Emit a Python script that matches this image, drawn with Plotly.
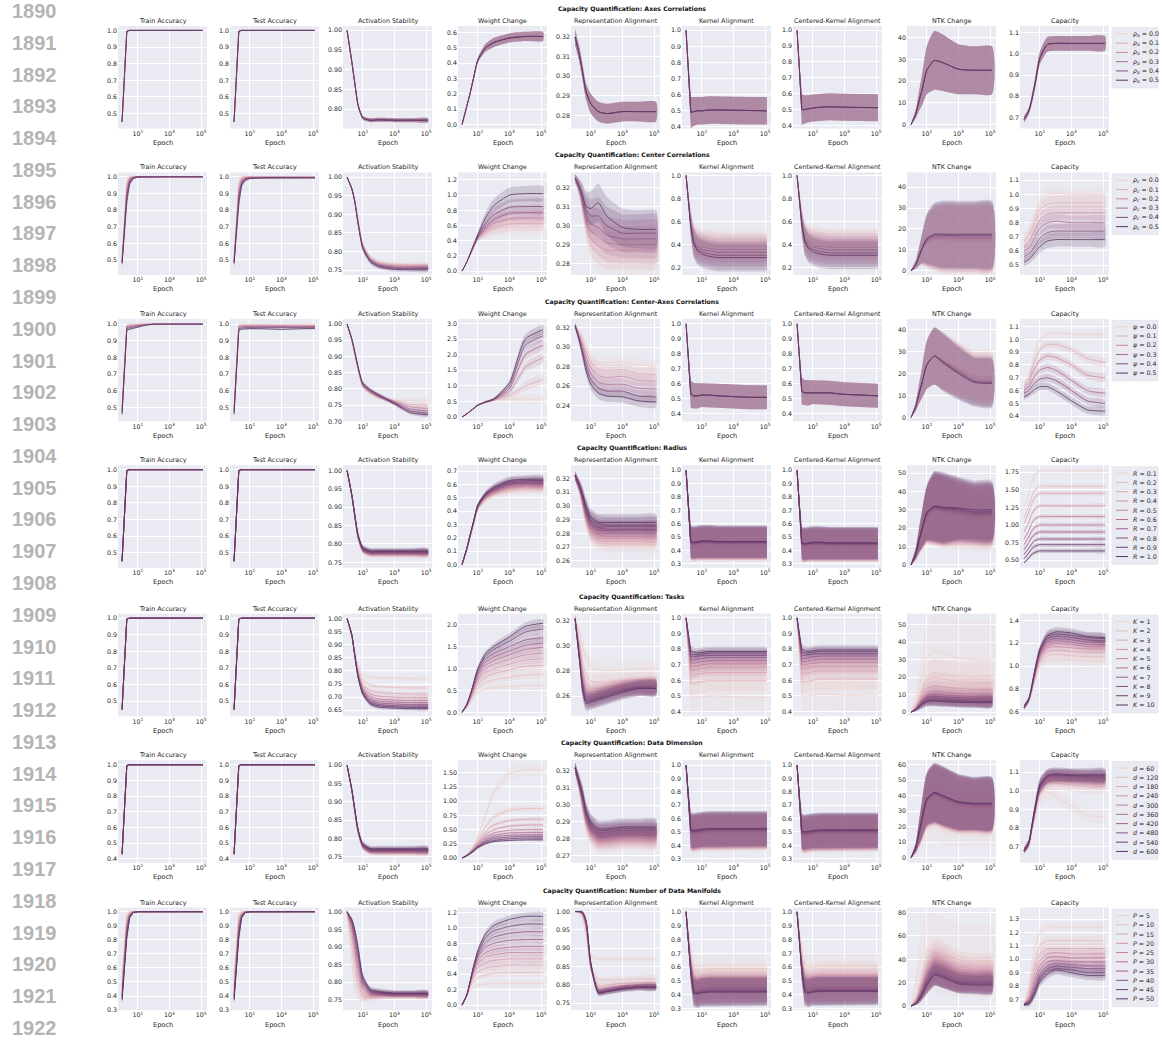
import plotly.graph_objects as go

W, H = 1162, 1042

# ---------------------------------------------------------------- data
epochs = [1, 2, 3, 5, 10, 30, 100, 1000, 10000, 131072]

line_numbers = ["1890", "1891", "1892", "1893", "1894", "1895", "1896", "1897", "1898", "1899",
                "1900", "1901", "1902", "1903", "1904", "1905", "1906", "1907", "1908", "1909",
                "1910", "1911", "1912", "1913", "1914", "1915", "1916", "1917", "1918", "1919",
                "1920", "1921", "1922"]

metric_titles = ["Train Accuracy", "Test Accuracy", "Activation Stability", "Weight Change",
                 "Representation Alignment", "Kernel Alignment", "Centered-Kernel Alignment",
                 "NTK Change", "Capacity"]

row_titles = ["Capacity Quantification: Axes Correlations",
              "Capacity Quantification: Center Correlations",
              "Capacity Quantification: Center-Axes Correlations",
              "Capacity Quantification: Radius",
              "Capacity Quantification: Tasks",
              "Capacity Quantification: Data Dimension",
              "Capacity Quantification: Number of Data Manifolds"]

r1_labels = ["<i>ρ</i><sub><i>a</i></sub> = 0.0", "<i>ρ</i><sub><i>a</i></sub> = 0.1", "<i>ρ</i><sub><i>a</i></sub> = 0.2",
             "<i>ρ</i><sub><i>a</i></sub> = 0.3", "<i>ρ</i><sub><i>a</i></sub> = 0.4", "<i>ρ</i><sub><i>a</i></sub> = 0.5"]
r2_labels = ["<i>ρ</i><sub><i>c</i></sub> = 0.0", "<i>ρ</i><sub><i>c</i></sub> = 0.1", "<i>ρ</i><sub><i>c</i></sub> = 0.2",
             "<i>ρ</i><sub><i>c</i></sub> = 0.3", "<i>ρ</i><sub><i>c</i></sub> = 0.4", "<i>ρ</i><sub><i>c</i></sub> = 0.5"]
r3_labels = ["<i>ψ</i> = 0.0", "<i>ψ</i> = 0.1", "<i>ψ</i> = 0.2", "<i>ψ</i> = 0.3", "<i>ψ</i> = 0.4", "<i>ψ</i> = 0.5"]
r4_labels = ["<i>R</i> = 0.1", "<i>R</i> = 0.2", "<i>R</i> = 0.3", "<i>R</i> = 0.4", "<i>R</i> = 0.5",
             "<i>R</i> = 0.6", "<i>R</i> = 0.7", "<i>R</i> = 0.8", "<i>R</i> = 0.9", "<i>R</i> = 1.0"]
r5_labels = ["<i>K</i> = 1", "<i>K</i> = 2", "<i>K</i> = 3", "<i>K</i> = 4", "<i>K</i> = 5",
             "<i>K</i> = 6", "<i>K</i> = 7", "<i>K</i> = 8", "<i>K</i> = 9", "<i>K</i> = 10"]
r6_labels = ["<i>d</i> = 60", "<i>d</i> = 120", "<i>d</i> = 180", "<i>d</i> = 240", "<i>d</i> = 300",
             "<i>d</i> = 360", "<i>d</i> = 420", "<i>d</i> = 480", "<i>d</i> = 540", "<i>d</i> = 600"]
r7_labels = ["<i>P</i> = 5", "<i>P</i> = 10", "<i>P</i> = 15", "<i>P</i> = 20", "<i>P</i> = 25",
             "<i>P</i> = 30", "<i>P</i> = 35", "<i>P</i> = 40", "<i>P</i> = 45", "<i>P</i> = 50"]

# ---------- row 1 : axes correlations (6 series, visually identical)
r1_train = [[0.45, 0.995, 1.0, 1.0, 1.0, 1.0, 1.0, 1.0, 1.0, 1.0]] * 6
r1_train_sd = [0.015, 0.003, 0, 0, 0, 0, 0, 0, 0, 0]
r1_test = [[0.45, 0.995, 1.0, 1.0, 1.0, 1.0, 1.0, 1.0, 1.0, 1.0]] * 6
r1_test_sd = [0.015, 0.003, 0, 0, 0, 0, 0, 0, 0, 0]
r1_act = [[1.0, 0.92, 0.87, 0.81, 0.778, 0.772, 0.773, 0.772, 0.772, 0.772]] * 6
r1_act_sd = [0, 0.004, 0.005, 0.005, 0.005, 0.005, 0.005, 0.005, 0.005, 0.005]
r1_weight = [[0.0, 0.12, 0.19, 0.29, 0.42, 0.50, 0.535, 0.565, 0.575, 0.575]] * 6
r1_weight_sd = [0, 0.002, 0.004, 0.008, 0.015, 0.025, 0.03, 0.03, 0.03, 0.03]
r1_repr = [[0.320, 0.310, 0.302, 0.292, 0.286, 0.282, 0.281, 0.282, 0.282, 0.282]] * 6
r1_repr_sd = [0.004, 0.004, 0.004, 0.004, 0.005, 0.005, 0.005, 0.005, 0.005, 0.005]
r1_kernel = [[1.0, 0.49, 0.495, 0.50, 0.50, 0.505, 0.505, 0.502, 0.50, 0.50]] * 6
r1_kernel_sd = [0, 0.095, 0.09, 0.085, 0.085, 0.085, 0.085, 0.085, 0.085, 0.085]
r1_ckernel = [[1.0, 0.50, 0.50, 0.505, 0.51, 0.515, 0.518, 0.515, 0.512, 0.512]] * 6
r1_ckernel_sd = [0, 0.095, 0.09, 0.085, 0.085, 0.085, 0.085, 0.085, 0.085, 0.085]
r1_ntk = [[0, 5, 10, 16, 25, 29.5, 28.5, 25.5, 25, 25]] * 6
r1_ntk_sd = [0, 2, 4, 7, 11, 13.5, 13, 11.5, 11, 11]
r1_cap = [[0.69, 0.73, 0.78, 0.86, 0.98, 1.045, 1.05, 1.05, 1.05, 1.05]] * 6
r1_cap_sd = [0.015, 0.015, 0.02, 0.025, 0.03, 0.035, 0.035, 0.035, 0.035, 0.035]
r1_yrange = [[0.41, 1.027], [0.41, 1.027], [0.751, 1.011], [-0.026, 0.644], [0.2734, 0.3256],
             [0.39, 1.027], [0.381, 1.027], [-1.8, 45.4], [0.647, 1.133]]
r1_dtick = [0.1, 0.1, 0.05, 0.1, 0.01, 0.1, 0.1, 10, 0.1]

# ---------- row 2 : center correlations
r2_train = [[0.50, 0.97, 0.995, 1.0, 1.0, 1.0, 1.0, 1.0, 1.0, 1.0],
            [0.50, 0.95, 0.99, 1.0, 1.0, 1.0, 1.0, 1.0, 1.0, 1.0],
            [0.49, 0.93, 0.985, 0.998, 1.0, 1.0, 1.0, 1.0, 1.0, 1.0],
            [0.49, 0.91, 0.98, 0.996, 1.0, 1.0, 1.0, 1.0, 1.0, 1.0],
            [0.48, 0.88, 0.97, 0.993, 1.0, 1.0, 1.0, 1.0, 1.0, 1.0],
            [0.48, 0.85, 0.96, 0.99, 0.999, 1.0, 1.0, 1.0, 1.0, 1.0]]
r2_train_sd = [0.03, 0.04, 0.02, 0.008, 0.003, 0, 0, 0, 0, 0]
r2_test = [[0.50, 0.97, 0.995, 1.0, 1.0, 1.0, 1.0, 1.0, 1.0, 1.0],
           [0.50, 0.95, 0.99, 0.998, 0.999, 0.999, 0.999, 0.999, 0.999, 0.999],
           [0.49, 0.92, 0.98, 0.995, 0.998, 0.998, 0.998, 0.998, 0.998, 0.998],
           [0.49, 0.90, 0.97, 0.99, 0.996, 0.997, 0.997, 0.997, 0.997, 0.997],
           [0.48, 0.87, 0.96, 0.985, 0.993, 0.995, 0.995, 0.995, 0.995, 0.995],
           [0.48, 0.84, 0.95, 0.98, 0.99, 0.993, 0.993, 0.993, 0.993, 0.993]]
r2_test_sd = [0.03, 0.04, 0.02, 0.01, 0.005, 0.003, 0.003, 0.003, 0.003, 0.003]
r2_act = [[1.0, 0.970, 0.940, 0.885, 0.820, 0.785, 0.772, 0.766, 0.765, 0.765],
          [1.0, 0.970, 0.940, 0.883, 0.818, 0.783, 0.770, 0.764, 0.763, 0.763],
          [1.0, 0.970, 0.939, 0.880, 0.815, 0.780, 0.767, 0.761, 0.760, 0.760],
          [1.0, 0.969, 0.938, 0.878, 0.812, 0.777, 0.764, 0.758, 0.757, 0.757],
          [1.0, 0.969, 0.937, 0.876, 0.810, 0.775, 0.762, 0.755, 0.754, 0.754],
          [1.0, 0.968, 0.936, 0.874, 0.807, 0.772, 0.759, 0.752, 0.751, 0.751]]
r2_act_sd = [0, 0.004, 0.005, 0.006, 0.006, 0.006, 0.006, 0.006, 0.006, 0.006]
r2_weight = [[0, 0.12, 0.20, 0.30, 0.43, 0.50, 0.55, 0.58, 0.58, 0.58],
             [0, 0.12, 0.20, 0.30, 0.43, 0.52, 0.58, 0.62, 0.63, 0.63],
             [0, 0.12, 0.20, 0.30, 0.44, 0.55, 0.63, 0.69, 0.70, 0.70],
             [0, 0.12, 0.20, 0.31, 0.45, 0.58, 0.68, 0.76, 0.77, 0.77],
             [0, 0.12, 0.21, 0.32, 0.46, 0.62, 0.74, 0.84, 0.85, 0.85],
             [0, 0.12, 0.21, 0.33, 0.48, 0.70, 0.86, 1.00, 1.02, 1.02]]
r2_weight_sd = [0, 0.005, 0.01, 0.02, 0.04, 0.07, 0.09, 0.10, 0.10, 0.10]
r2_repr = [[0.325, 0.318, 0.310, 0.300, 0.290, 0.285, 0.283, 0.283, 0.283, 0.283],
           [0.325, 0.318, 0.311, 0.302, 0.293, 0.289, 0.287, 0.287, 0.287, 0.287],
           [0.325, 0.319, 0.312, 0.304, 0.297, 0.294, 0.291, 0.290, 0.290, 0.290],
           [0.325, 0.319, 0.313, 0.306, 0.301, 0.299, 0.295, 0.293, 0.293, 0.293],
           [0.325, 0.320, 0.315, 0.308, 0.305, 0.305, 0.300, 0.296, 0.296, 0.296],
           [0.325, 0.320, 0.316, 0.310, 0.309, 0.312, 0.305, 0.299, 0.298, 0.298]]
r2_repr_sd = [0.002, 0.004, 0.006, 0.008, 0.009, 0.01, 0.01, 0.01, 0.01, 0.01]
r2_kernel = [[1.0, 0.60, 0.48, 0.44, 0.43, 0.42, 0.41, 0.41, 0.41, 0.41],
             [1.0, 0.59, 0.46, 0.42, 0.405, 0.395, 0.385, 0.385, 0.385, 0.385],
             [1.0, 0.58, 0.44, 0.40, 0.38, 0.37, 0.36, 0.36, 0.36, 0.36],
             [1.0, 0.57, 0.43, 0.38, 0.36, 0.345, 0.335, 0.335, 0.335, 0.335],
             [1.0, 0.56, 0.42, 0.36, 0.34, 0.32, 0.31, 0.31, 0.31, 0.31],
             [1.0, 0.55, 0.41, 0.35, 0.32, 0.30, 0.29, 0.29, 0.29, 0.29]]
r2_kernel_sd = [0, 0.10, 0.12, 0.12, 0.12, 0.12, 0.12, 0.12, 0.12, 0.12]
r2_ckernel = [[1.0, 0.62, 0.50, 0.46, 0.45, 0.44, 0.43, 0.43, 0.43, 0.43],
              [1.0, 0.61, 0.48, 0.44, 0.425, 0.415, 0.405, 0.405, 0.405, 0.405],
              [1.0, 0.60, 0.46, 0.42, 0.40, 0.39, 0.38, 0.38, 0.38, 0.38],
              [1.0, 0.59, 0.45, 0.40, 0.38, 0.365, 0.355, 0.355, 0.355, 0.355],
              [1.0, 0.58, 0.44, 0.38, 0.36, 0.34, 0.33, 0.33, 0.33, 0.33],
              [1.0, 0.57, 0.43, 0.37, 0.34, 0.32, 0.31, 0.31, 0.31, 0.31]]
r2_ckernel_sd = [0, 0.10, 0.12, 0.12, 0.12, 0.12, 0.12, 0.12, 0.12, 0.12]
r2_ntk = [[0, 3.0, 6.0, 9.5, 13.0, 14.5, 14.5, 14.0, 14.0, 14.0],
          [0, 3.0, 6.0, 10.0, 13.5, 15.0, 15.0, 14.8, 14.8, 14.8],
          [0, 3.0, 6.2, 10.0, 14.0, 15.7, 15.7, 15.5, 15.5, 15.5],
          [0, 3.0, 6.3, 10.5, 14.5, 16.3, 16.3, 16.2, 16.2, 16.2],
          [0, 3.1, 6.4, 10.7, 15.0, 17.0, 17.0, 16.8, 16.8, 16.8],
          [0, 3.2, 6.5, 11.0, 15.5, 17.5, 17.5, 17.5, 17.5, 17.5]]
r2_ntk_sd = [0, 2, 4, 7, 12, 15, 16, 16, 16, 16]
r2_cap = [[0.70, 0.74, 0.79, 0.86, 0.95, 1.00, 1.01, 1.00, 1.00, 1.00],
          [0.67, 0.71, 0.75, 0.81, 0.89, 0.93, 0.94, 0.94, 0.94, 0.94],
          [0.63, 0.66, 0.70, 0.75, 0.82, 0.86, 0.87, 0.87, 0.87, 0.87],
          [0.60, 0.62, 0.65, 0.70, 0.76, 0.80, 0.81, 0.80, 0.80, 0.80],
          [0.56, 0.58, 0.60, 0.64, 0.69, 0.73, 0.74, 0.74, 0.74, 0.74],
          [0.52, 0.54, 0.56, 0.59, 0.63, 0.67, 0.68, 0.68, 0.68, 0.68]]
r2_cap_sd = [0.03, 0.03, 0.035, 0.04, 0.045, 0.05, 0.05, 0.05, 0.05, 0.05]
r2_yrange = [[0.41, 1.027], [0.41, 1.027], [0.737, 1.013], [-0.05, 1.3], [0.274, 0.328],
             [0.14, 1.026], [0.14, 1.026], [-1.9, 47], [0.43, 1.156]]
r2_dtick = [0.1, 0.1, 0.05, 0.2, 0.01, 0.2, 0.2, 10, 0.1]

# ---------- row 3 : center-axes correlations
r3_train = [[0.50, 0.995, 1.0, 1.0, 1.0, 1.0, 1.0, 1.0, 1.0, 1.0],
            [0.50, 0.99, 0.995, 0.997, 0.999, 1.0, 1.0, 1.0, 1.0, 1.0],
            [0.49, 0.985, 0.99, 0.993, 0.996, 0.999, 1.0, 1.0, 1.0, 1.0],
            [0.48, 0.98, 0.985, 0.988, 0.992, 0.997, 1.0, 1.0, 1.0, 1.0],
            [0.47, 0.975, 0.978, 0.982, 0.987, 0.995, 1.0, 1.0, 1.0, 1.0],
            [0.46, 0.965, 0.97, 0.975, 0.982, 0.993, 1.0, 1.0, 1.0, 1.0]]
r3_train_sd = [0.02, 0.005, 0.004, 0.003, 0.003, 0.002, 0, 0, 0, 0]
r3_test = [[0.50, 0.995, 0.998, 0.998, 0.998, 0.998, 0.998, 0.998, 0.997, 0.997],
           [0.50, 0.99, 0.993, 0.993, 0.994, 0.994, 0.994, 0.993, 0.992, 0.992],
           [0.49, 0.985, 0.99, 0.99, 0.99, 0.99, 0.99, 0.988, 0.988, 0.989],
           [0.48, 0.98, 0.985, 0.986, 0.987, 0.987, 0.987, 0.985, 0.985, 0.986],
           [0.47, 0.972, 0.978, 0.98, 0.98, 0.98, 0.98, 0.978, 0.979, 0.98],
           [0.46, 0.962, 0.97, 0.972, 0.973, 0.973, 0.972, 0.969, 0.972, 0.974]]
r3_test_sd = [0.02, 0.005, 0.004, 0.004, 0.004, 0.004, 0.004, 0.004, 0.004, 0.004]
r3_act = [[1.0, 0.950, 0.910, 0.860, 0.805, 0.785, 0.772, 0.765, 0.765, 0.765],
          [1.0, 0.950, 0.910, 0.860, 0.807, 0.788, 0.775, 0.762, 0.752, 0.750],
          [1.0, 0.950, 0.912, 0.862, 0.810, 0.790, 0.777, 0.760, 0.745, 0.740],
          [1.0, 0.952, 0.914, 0.864, 0.812, 0.792, 0.778, 0.758, 0.738, 0.732],
          [1.0, 0.953, 0.916, 0.866, 0.815, 0.795, 0.780, 0.756, 0.732, 0.725],
          [1.0, 0.955, 0.918, 0.868, 0.818, 0.797, 0.782, 0.754, 0.727, 0.720]]
r3_act_sd = [0, 0.004, 0.005, 0.006, 0.006, 0.006, 0.006, 0.006, 0.006, 0.006]
r3_weight = [[0, 0.10, 0.17, 0.26, 0.38, 0.48, 0.53, 0.57, 0.58, 0.58],
             [0, 0.10, 0.17, 0.26, 0.38, 0.48, 0.54, 0.68, 1.00, 1.20],
             [0, 0.10, 0.17, 0.26, 0.38, 0.48, 0.55, 0.80, 1.60, 1.90],
             [0, 0.10, 0.17, 0.26, 0.38, 0.48, 0.56, 0.90, 2.00, 2.30],
             [0, 0.10, 0.17, 0.26, 0.38, 0.48, 0.57, 1.00, 2.30, 2.60],
             [0, 0.10, 0.17, 0.26, 0.38, 0.48, 0.58, 1.10, 2.50, 2.80]]
r3_weight_sd = [0, 0.005, 0.01, 0.015, 0.02, 0.03, 0.04, 0.08, 0.15, 0.15]
r3_repr = [[0.322, 0.315, 0.310, 0.300, 0.290, 0.285, 0.284, 0.285, 0.282, 0.280],
           [0.322, 0.312, 0.305, 0.295, 0.285, 0.278, 0.276, 0.277, 0.273, 0.272],
           [0.322, 0.310, 0.302, 0.290, 0.279, 0.271, 0.269, 0.270, 0.266, 0.265],
           [0.322, 0.308, 0.298, 0.285, 0.273, 0.264, 0.262, 0.262, 0.258, 0.257],
           [0.322, 0.306, 0.295, 0.280, 0.267, 0.258, 0.255, 0.255, 0.250, 0.249],
           [0.322, 0.304, 0.292, 0.276, 0.262, 0.253, 0.250, 0.249, 0.245, 0.244]]
r3_repr_sd = [0.003, 0.004, 0.005, 0.006, 0.006, 0.006, 0.006, 0.006, 0.006, 0.006]
r3_kernel = [[1.0, 0.53, 0.52, 0.52, 0.525, 0.525, 0.52, 0.515, 0.51, 0.51]] * 6
r3_kernel_sd = [0, 0.09, 0.085, 0.085, 0.08, 0.08, 0.08, 0.08, 0.08, 0.08]
r3_ckernel = [[1.0, 0.55, 0.54, 0.54, 0.545, 0.545, 0.54, 0.53, 0.525, 0.52]] * 6
r3_ckernel_sd = [0, 0.09, 0.085, 0.085, 0.08, 0.08, 0.08, 0.08, 0.08, 0.08]
r3_ntk = [[0, 5, 10, 16, 24, 28, 26.5, 23.0, 20.0, 20.0],
          [0, 5, 10, 16, 24, 28, 26.0, 22.0, 19.0, 18.5],
          [0, 5, 10, 16, 24, 28, 26.0, 21.5, 18.0, 17.5],
          [0, 5, 10, 16, 24, 28, 25.5, 21.0, 17.0, 16.5],
          [0, 5, 10, 16, 24, 28, 25.5, 20.5, 16.5, 16.0],
          [0, 5, 10, 16, 24, 28, 25.0, 20.0, 16.0, 15.5]]
r3_ntk_sd = [0, 2, 4, 7, 11, 13, 13, 12, 11, 11]
r3_cap = [[0.66, 0.72, 0.80, 0.90, 0.99, 1.04, 1.05, 1.04, 1.04, 1.04],
          [0.64, 0.69, 0.76, 0.84, 0.92, 0.96, 0.96, 0.92, 0.85, 0.82],
          [0.62, 0.66, 0.72, 0.78, 0.84, 0.87, 0.86, 0.80, 0.72, 0.70],
          [0.60, 0.63, 0.67, 0.72, 0.76, 0.78, 0.76, 0.68, 0.60, 0.58],
          [0.58, 0.60, 0.63, 0.66, 0.69, 0.70, 0.68, 0.60, 0.52, 0.50],
          [0.55, 0.57, 0.59, 0.61, 0.63, 0.63, 0.60, 0.52, 0.45, 0.44]]
r3_cap_sd = [0.02, 0.02, 0.025, 0.03, 0.03, 0.03, 0.03, 0.03, 0.03, 0.03]
r3_yrange = [[0.418, 1.032], [0.418, 1.032], [0.70, 1.016], [-0.14, 3.15], [0.224, 0.329],
             [0.35, 1.033], [0.35, 1.033], [-1.8, 45], [0.36, 1.16]]
r3_dtick = [0.1, 0.1, 0.05, 0.5, 0.02, 0.1, 0.1, 10, 0.1]

# ---------- row 4 : radius
r4_train = [[0.45, 0.995, 1.0, 1.0, 1.0, 1.0, 1.0, 1.0, 1.0, 1.0]] * 10
r4_train_sd = [0.015, 0.003, 0, 0, 0, 0, 0, 0, 0, 0]
r4_test = [[0.45, 0.995, 1.0, 1.0, 1.0, 1.0, 1.0, 1.0, 1.0, 1.0]] * 10
r4_test_sd = [0.015, 0.003, 0, 0, 0, 0, 0, 0, 0, 0]
r4_act = [[1.0, 0.930, 0.875, 0.815, 0.780, 0.770, 0.769, 0.768, 0.768, 0.768],
          [1.0, 0.930, 0.876, 0.816, 0.781, 0.771, 0.771, 0.770, 0.770, 0.770],
          [1.0, 0.930, 0.877, 0.817, 0.782, 0.773, 0.773, 0.772, 0.772, 0.772],
          [1.0, 0.931, 0.878, 0.818, 0.783, 0.774, 0.774, 0.774, 0.774, 0.774],
          [1.0, 0.931, 0.879, 0.819, 0.784, 0.775, 0.775, 0.775, 0.775, 0.775],
          [1.0, 0.932, 0.880, 0.820, 0.785, 0.776, 0.776, 0.776, 0.776, 0.776],
          [1.0, 0.932, 0.881, 0.821, 0.786, 0.777, 0.777, 0.777, 0.777, 0.777],
          [1.0, 0.933, 0.882, 0.822, 0.787, 0.778, 0.778, 0.778, 0.778, 0.778],
          [1.0, 0.933, 0.883, 0.823, 0.788, 0.779, 0.779, 0.779, 0.779, 0.779],
          [1.0, 0.934, 0.884, 0.824, 0.789, 0.781, 0.781, 0.781, 0.781, 0.781]]
r4_act_sd = [0, 0.005, 0.007, 0.008, 0.008, 0.008, 0.008, 0.008, 0.008, 0.008]
r4_weight = [[0, 0.11, 0.19, 0.29, 0.41, 0.48, 0.52, 0.55, 0.56, 0.56],
             [0, 0.11, 0.19, 0.29, 0.42, 0.49, 0.53, 0.56, 0.57, 0.57],
             [0, 0.11, 0.19, 0.29, 0.42, 0.50, 0.54, 0.57, 0.58, 0.58],
             [0, 0.11, 0.19, 0.30, 0.43, 0.50, 0.54, 0.58, 0.59, 0.59],
             [0, 0.12, 0.20, 0.30, 0.43, 0.51, 0.55, 0.59, 0.60, 0.60],
             [0, 0.12, 0.20, 0.30, 0.43, 0.51, 0.55, 0.60, 0.61, 0.61],
             [0, 0.12, 0.20, 0.30, 0.44, 0.52, 0.56, 0.60, 0.61, 0.61],
             [0, 0.12, 0.20, 0.31, 0.44, 0.52, 0.57, 0.61, 0.62, 0.62],
             [0, 0.12, 0.20, 0.31, 0.44, 0.53, 0.57, 0.62, 0.63, 0.63],
             [0, 0.12, 0.21, 0.31, 0.45, 0.53, 0.58, 0.63, 0.64, 0.64]]
r4_weight_sd = [0, 0.003, 0.005, 0.01, 0.015, 0.02, 0.025, 0.03, 0.03, 0.03]
r4_repr = [[0.322, 0.310, 0.300, 0.288, 0.278, 0.273, 0.272, 0.272, 0.272, 0.272],
           [0.322, 0.311, 0.301, 0.290, 0.280, 0.275, 0.274, 0.274, 0.274, 0.274],
           [0.322, 0.311, 0.302, 0.291, 0.281, 0.277, 0.276, 0.276, 0.276, 0.276],
           [0.322, 0.312, 0.303, 0.292, 0.283, 0.279, 0.278, 0.278, 0.278, 0.278],
           [0.322, 0.312, 0.304, 0.293, 0.284, 0.280, 0.280, 0.280, 0.280, 0.280],
           [0.322, 0.313, 0.305, 0.294, 0.286, 0.282, 0.282, 0.282, 0.282, 0.282],
           [0.322, 0.313, 0.306, 0.296, 0.287, 0.284, 0.283, 0.283, 0.283, 0.283],
           [0.322, 0.314, 0.307, 0.297, 0.289, 0.285, 0.285, 0.285, 0.285, 0.285],
           [0.322, 0.314, 0.308, 0.298, 0.290, 0.287, 0.286, 0.286, 0.286, 0.286],
           [0.322, 0.315, 0.309, 0.300, 0.292, 0.288, 0.288, 0.288, 0.288, 0.288]]
r4_repr_sd = [0.003, 0.004, 0.005, 0.006, 0.006, 0.006, 0.006, 0.006, 0.006, 0.006]
r4_kernel = [[1.0, 0.440, 0.435, 0.440, 0.445, 0.445, 0.440, 0.440, 0.440, 0.440],
             [1.0, 0.443, 0.438, 0.443, 0.448, 0.448, 0.443, 0.443, 0.443, 0.443],
             [1.0, 0.446, 0.441, 0.446, 0.451, 0.451, 0.446, 0.446, 0.446, 0.446],
             [1.0, 0.449, 0.444, 0.449, 0.454, 0.454, 0.449, 0.449, 0.449, 0.449],
             [1.0, 0.452, 0.447, 0.452, 0.457, 0.457, 0.452, 0.452, 0.452, 0.452],
             [1.0, 0.455, 0.450, 0.455, 0.460, 0.460, 0.455, 0.455, 0.455, 0.455],
             [1.0, 0.458, 0.453, 0.458, 0.463, 0.463, 0.458, 0.458, 0.458, 0.458],
             [1.0, 0.461, 0.456, 0.461, 0.466, 0.466, 0.461, 0.461, 0.461, 0.461],
             [1.0, 0.464, 0.459, 0.464, 0.469, 0.469, 0.464, 0.464, 0.464, 0.464],
             [1.0, 0.467, 0.462, 0.467, 0.472, 0.472, 0.467, 0.467, 0.467, 0.467]]
r4_kernel_sd = [0, 0.12, 0.12, 0.12, 0.12, 0.12, 0.12, 0.12, 0.12, 0.12]
r4_ckernel = [[1.0, 0.430, 0.425, 0.430, 0.435, 0.435, 0.430, 0.430, 0.430, 0.430],
              [1.0, 0.433, 0.428, 0.433, 0.438, 0.438, 0.433, 0.433, 0.433, 0.433],
              [1.0, 0.436, 0.431, 0.436, 0.441, 0.441, 0.436, 0.436, 0.436, 0.436],
              [1.0, 0.439, 0.434, 0.439, 0.444, 0.444, 0.439, 0.439, 0.439, 0.439],
              [1.0, 0.442, 0.437, 0.442, 0.447, 0.447, 0.442, 0.442, 0.442, 0.442],
              [1.0, 0.445, 0.440, 0.445, 0.450, 0.450, 0.445, 0.445, 0.445, 0.445],
              [1.0, 0.448, 0.443, 0.448, 0.453, 0.453, 0.448, 0.448, 0.448, 0.448],
              [1.0, 0.451, 0.446, 0.451, 0.456, 0.456, 0.451, 0.451, 0.451, 0.451],
              [1.0, 0.454, 0.449, 0.454, 0.459, 0.459, 0.454, 0.454, 0.454, 0.454],
              [1.0, 0.457, 0.452, 0.457, 0.462, 0.462, 0.457, 0.457, 0.457, 0.457]]
r4_ckernel_sd = [0, 0.12, 0.12, 0.12, 0.12, 0.12, 0.12, 0.12, 0.12, 0.12]
r4_ntk = [[0, 5.5, 11.0, 18.0, 26.0, 29.0, 28.0, 25.5, 24.0, 24.0],
          [0, 5.6, 11.2, 18.2, 26.3, 29.5, 28.5, 26.5, 25.0, 25.0],
          [0, 5.7, 11.4, 18.4, 26.6, 30.0, 29.0, 27.5, 26.0, 26.0],
          [0, 5.8, 11.6, 18.6, 26.9, 30.0, 29.3, 28.0, 26.5, 26.5],
          [0, 5.9, 11.8, 18.8, 27.2, 30.5, 29.6, 28.5, 27.0, 27.0],
          [0, 6.0, 12.0, 19.0, 27.5, 31.0, 30.0, 29.0, 27.5, 27.5],
          [0, 6.1, 12.2, 19.2, 27.8, 31.0, 30.3, 29.5, 28.0, 28.0],
          [0, 6.2, 12.4, 19.4, 28.1, 31.5, 30.6, 30.0, 28.5, 28.5],
          [0, 6.3, 12.6, 19.6, 28.4, 32.0, 31.0, 30.5, 29.0, 29.0],
          [0, 6.4, 12.8, 19.8, 28.7, 32.0, 31.5, 31.0, 30.0, 30.0]]
r4_ntk_sd = [0, 3, 6, 10, 15, 19, 19, 17, 16, 16]
r4_cap = [[1.25, 1.45, 1.60, 1.72, 1.77, 1.77, 1.77, 1.77, 1.77, 1.77],
          [1.10, 1.27, 1.40, 1.50, 1.55, 1.55, 1.55, 1.55, 1.55, 1.55],
          [1.02, 1.18, 1.30, 1.40, 1.45, 1.45, 1.45, 1.45, 1.45, 1.45],
          [0.90, 1.04, 1.15, 1.23, 1.27, 1.27, 1.27, 1.27, 1.27, 1.27],
          [0.80, 0.92, 1.02, 1.09, 1.12, 1.12, 1.12, 1.12, 1.12, 1.12],
          [0.72, 0.83, 0.91, 0.97, 1.00, 1.00, 1.00, 1.00, 1.00, 1.00],
          [0.65, 0.75, 0.82, 0.87, 0.90, 0.90, 0.90, 0.90, 0.90, 0.90],
          [0.58, 0.67, 0.73, 0.78, 0.80, 0.80, 0.80, 0.80, 0.80, 0.80],
          [0.52, 0.60, 0.66, 0.70, 0.72, 0.72, 0.72, 0.72, 0.72, 0.72],
          [0.46, 0.53, 0.58, 0.61, 0.63, 0.63, 0.63, 0.63, 0.63, 0.63]]
r4_cap_sd = [0.02, 0.02, 0.025, 0.03, 0.03, 0.03, 0.03, 0.03, 0.03, 0.03]
r4_yrange = [[0.41, 1.027], [0.41, 1.027], [0.735, 1.014], [-0.025, 0.745], [0.255, 0.3295],
             [0.27, 1.037], [0.27, 1.037], [-1.6, 54.3], [0.39, 1.85]]
r4_dtick = [0.1, 0.1, 0.05, 0.1, 0.01, 0.1, 0.1, 10, 0.25]

# ---------- row 5 : tasks
r5_train = [[0.45, 0.995, 1.0, 1.0, 1.0, 1.0, 1.0, 1.0, 1.0, 1.0]] * 10
r5_train_sd = [0.015, 0.003, 0, 0, 0, 0, 0, 0, 0, 0]
r5_test = [[0.45, 0.995, 1.0, 1.0, 1.0, 1.0, 1.0, 1.0, 1.0, 1.0]] * 10
r5_test_sd = [0.015, 0.003, 0, 0, 0, 0, 0, 0, 0, 0]
r5_act = [[1.0, 0.930, 0.880, 0.820, 0.785, 0.775, 0.773, 0.772, 0.771, 0.771],
          [1.0, 0.930, 0.875, 0.810, 0.765, 0.745, 0.740, 0.737, 0.735, 0.735],
          [1.0, 0.932, 0.872, 0.800, 0.750, 0.725, 0.718, 0.714, 0.712, 0.712],
          [1.0, 0.934, 0.870, 0.795, 0.740, 0.712, 0.704, 0.700, 0.698, 0.698],
          [1.0, 0.935, 0.868, 0.790, 0.733, 0.702, 0.693, 0.689, 0.687, 0.687],
          [1.0, 0.936, 0.866, 0.786, 0.727, 0.694, 0.685, 0.681, 0.679, 0.679],
          [1.0, 0.937, 0.865, 0.783, 0.722, 0.688, 0.678, 0.674, 0.672, 0.672],
          [1.0, 0.938, 0.864, 0.780, 0.717, 0.682, 0.672, 0.668, 0.666, 0.666],
          [1.0, 0.939, 0.863, 0.777, 0.713, 0.677, 0.667, 0.663, 0.661, 0.661],
          [1.0, 0.940, 0.862, 0.775, 0.710, 0.673, 0.662, 0.658, 0.656, 0.656]]
r5_act_sd = [0, 0.005, 0.007, 0.008, 0.008, 0.008, 0.008, 0.008, 0.008, 0.008]
r5_weight = [[0, 0.10, 0.18, 0.30, 0.45, 0.53, 0.56, 0.59, 0.61, 0.61],
             [0, 0.12, 0.22, 0.37, 0.55, 0.68, 0.74, 0.80, 0.85, 0.86],
             [0, 0.13, 0.25, 0.42, 0.64, 0.80, 0.88, 0.97, 1.05, 1.07],
             [0, 0.14, 0.27, 0.46, 0.71, 0.90, 0.99, 1.10, 1.19, 1.22],
             [0, 0.15, 0.29, 0.50, 0.77, 0.99, 1.09, 1.21, 1.31, 1.35],
             [0, 0.16, 0.31, 0.53, 0.83, 1.07, 1.18, 1.31, 1.43, 1.48],
             [0, 0.17, 0.33, 0.56, 0.88, 1.14, 1.26, 1.40, 1.53, 1.58],
             [0, 0.18, 0.34, 0.59, 0.93, 1.21, 1.34, 1.50, 1.65, 1.70],
             [0, 0.18, 0.35, 0.61, 0.97, 1.28, 1.43, 1.62, 1.83, 1.90],
             [0, 0.19, 0.36, 0.63, 1.01, 1.34, 1.50, 1.72, 1.96, 2.03]]
r5_weight_sd = [0, 0.005, 0.01, 0.02, 0.04, 0.06, 0.07, 0.08, 0.09, 0.09]
r5_repr = [[0.322, 0.310, 0.300, 0.290, 0.284, 0.281, 0.280, 0.281, 0.282, 0.282],
           [0.322, 0.302, 0.288, 0.277, 0.272, 0.271, 0.271, 0.272, 0.273, 0.273],
           [0.322, 0.298, 0.282, 0.270, 0.266, 0.266, 0.267, 0.269, 0.270, 0.270],
           [0.322, 0.295, 0.278, 0.266, 0.263, 0.264, 0.265, 0.268, 0.269, 0.269],
           [0.322, 0.293, 0.275, 0.263, 0.261, 0.262, 0.264, 0.267, 0.268, 0.268],
           [0.322, 0.291, 0.272, 0.261, 0.259, 0.261, 0.263, 0.266, 0.268, 0.268],
           [0.322, 0.289, 0.270, 0.259, 0.258, 0.260, 0.262, 0.265, 0.267, 0.267],
           [0.322, 0.288, 0.268, 0.257, 0.257, 0.259, 0.261, 0.265, 0.267, 0.267],
           [0.322, 0.287, 0.266, 0.256, 0.256, 0.258, 0.260, 0.264, 0.266, 0.266],
           [0.322, 0.286, 0.264, 0.254, 0.255, 0.257, 0.259, 0.263, 0.266, 0.266]]
r5_repr_sd = [0.003, 0.005, 0.006, 0.006, 0.006, 0.006, 0.006, 0.006, 0.006, 0.006]
r5_kernel = [[1.0, 0.49, 0.49, 0.49, 0.495, 0.50, 0.50, 0.495, 0.49, 0.49],
             [1.0, 0.58, 0.58, 0.585, 0.59, 0.60, 0.60, 0.60, 0.60, 0.60],
             [1.0, 0.63, 0.635, 0.64, 0.645, 0.65, 0.65, 0.65, 0.65, 0.65],
             [1.0, 0.66, 0.665, 0.67, 0.675, 0.68, 0.68, 0.68, 0.68, 0.68],
             [1.0, 0.69, 0.69, 0.695, 0.70, 0.705, 0.705, 0.705, 0.705, 0.705],
             [1.0, 0.71, 0.71, 0.715, 0.72, 0.725, 0.725, 0.725, 0.725, 0.725],
             [1.0, 0.73, 0.73, 0.735, 0.74, 0.745, 0.745, 0.745, 0.745, 0.745],
             [1.0, 0.75, 0.75, 0.755, 0.76, 0.76, 0.76, 0.76, 0.76, 0.76],
             [1.0, 0.77, 0.765, 0.765, 0.77, 0.775, 0.775, 0.775, 0.775, 0.775],
             [1.0, 0.79, 0.78, 0.775, 0.78, 0.785, 0.785, 0.785, 0.785, 0.785]]
r5_kernel_sd = [[0, 0.095, 0.095, 0.095, 0.095, 0.095, 0.095, 0.095, 0.095, 0.095],
                [0, 0.07, 0.07, 0.07, 0.07, 0.07, 0.07, 0.07, 0.07, 0.07],
                [0, 0.06, 0.06, 0.06, 0.06, 0.06, 0.06, 0.06, 0.06, 0.06],
                [0, 0.05, 0.05, 0.05, 0.05, 0.05, 0.05, 0.05, 0.05, 0.05],
                [0, 0.045, 0.045, 0.045, 0.045, 0.045, 0.045, 0.045, 0.045, 0.045],
                [0, 0.04, 0.04, 0.04, 0.04, 0.04, 0.04, 0.04, 0.04, 0.04],
                [0, 0.035, 0.035, 0.035, 0.035, 0.035, 0.035, 0.035, 0.035, 0.035],
                [0, 0.035, 0.035, 0.035, 0.035, 0.035, 0.035, 0.035, 0.035, 0.035],
                [0, 0.03, 0.03, 0.03, 0.03, 0.03, 0.03, 0.03, 0.03, 0.03],
                [0, 0.03, 0.03, 0.03, 0.03, 0.03, 0.03, 0.03, 0.03, 0.03]]
r5_ckernel = [[1.0, 0.50, 0.50, 0.50, 0.505, 0.51, 0.51, 0.505, 0.50, 0.50],
              [1.0, 0.59, 0.59, 0.595, 0.60, 0.61, 0.61, 0.61, 0.61, 0.61],
              [1.0, 0.64, 0.645, 0.65, 0.655, 0.66, 0.66, 0.66, 0.66, 0.66],
              [1.0, 0.67, 0.675, 0.68, 0.685, 0.69, 0.69, 0.69, 0.69, 0.69],
              [1.0, 0.70, 0.70, 0.705, 0.71, 0.715, 0.715, 0.715, 0.715, 0.715],
              [1.0, 0.72, 0.72, 0.725, 0.73, 0.735, 0.735, 0.735, 0.735, 0.735],
              [1.0, 0.74, 0.74, 0.745, 0.75, 0.755, 0.755, 0.755, 0.755, 0.755],
              [1.0, 0.76, 0.76, 0.765, 0.77, 0.77, 0.77, 0.77, 0.77, 0.77],
              [1.0, 0.78, 0.775, 0.775, 0.78, 0.785, 0.785, 0.785, 0.785, 0.785],
              [1.0, 0.80, 0.79, 0.785, 0.79, 0.795, 0.795, 0.795, 0.795, 0.795]]
r5_ckernel_sd = r5_kernel_sd
r5_ntk = [[0, 7.0, 14.0, 22.0, 31.0, 35.0, 34.0, 31.0, 30.0, 30.0],
          [0, 4.0, 8.0, 13.0, 18.0, 20.0, 19.0, 17.5, 17.0, 17.0],
          [0, 3.0, 6.0, 10.0, 14.0, 15.0, 14.5, 13.5, 13.0, 13.0],
          [0, 2.5, 5.0, 8.0, 11.0, 12.0, 11.5, 10.8, 10.5, 10.5],
          [0, 2.0, 4.2, 7.0, 9.5, 10.3, 10.0, 9.3, 9.0, 9.0],
          [0, 1.8, 3.8, 6.2, 8.5, 9.2, 8.8, 8.2, 8.0, 8.0],
          [0, 1.6, 3.4, 5.6, 7.6, 8.2, 7.9, 7.3, 7.1, 7.0],
          [0, 1.5, 3.1, 5.1, 7.0, 7.5, 7.2, 6.7, 6.5, 6.5],
          [0, 1.4, 2.9, 4.7, 6.4, 6.9, 6.6, 6.2, 6.0, 6.0],
          [0, 1.3, 2.7, 4.4, 6.0, 6.4, 6.1, 5.7, 5.5, 5.5]]
r5_ntk_sd = [[0, 4, 8, 13, 18, 21, 22, 22, 22, 22],
             [0, 2, 4, 7, 10, 11, 11, 11, 11, 11],
             [0, 1.5, 3, 5, 7, 8, 8, 8, 8, 8],
             [0, 1.2, 2.5, 4, 5.5, 6, 6, 6, 6, 6],
             [0, 1, 2, 3.5, 4.5, 5, 5, 5, 5, 5],
             [0, 1, 2, 3, 4, 4.5, 4.5, 4.5, 4.5, 4.5],
             [0, 0.9, 1.8, 2.7, 3.5, 4, 4, 4, 4, 4],
             [0, 0.8, 1.6, 2.5, 3.2, 3.6, 3.6, 3.6, 3.6, 3.6],
             [0, 0.7, 1.5, 2.3, 3, 3.3, 3.3, 3.3, 3.3, 3.3],
             [0, 0.7, 1.4, 2.2, 2.8, 3, 3, 3, 3, 3]]
r5_cap = [[0.64, 0.70, 0.77, 0.88, 1.00, 1.05, 1.05, 1.05, 1.04, 1.04],
          [0.64, 0.70, 0.78, 0.90, 1.03, 1.09, 1.10, 1.09, 1.08, 1.08],
          [0.64, 0.70, 0.78, 0.91, 1.05, 1.13, 1.14, 1.13, 1.12, 1.12],
          [0.64, 0.70, 0.79, 0.92, 1.07, 1.16, 1.17, 1.16, 1.15, 1.15],
          [0.64, 0.70, 0.79, 0.93, 1.09, 1.18, 1.20, 1.19, 1.17, 1.17],
          [0.64, 0.70, 0.80, 0.94, 1.10, 1.20, 1.22, 1.21, 1.19, 1.19],
          [0.64, 0.71, 0.80, 0.95, 1.12, 1.22, 1.24, 1.23, 1.21, 1.21],
          [0.64, 0.71, 0.81, 0.96, 1.13, 1.24, 1.26, 1.25, 1.23, 1.22],
          [0.64, 0.71, 0.81, 0.97, 1.14, 1.26, 1.28, 1.27, 1.25, 1.24],
          [0.64, 0.71, 0.82, 0.98, 1.15, 1.27, 1.30, 1.29, 1.26, 1.25]]
r5_cap_sd = [0.02, 0.02, 0.025, 0.03, 0.035, 0.04, 0.04, 0.04, 0.04, 0.04]
r5_yrange = [[0.41, 1.027], [0.41, 1.027], [0.627, 1.019], [-0.09, 2.25], [0.2438, 0.326],
             [0.37, 1.027], [0.37, 1.027], [-2.3, 56.3], [0.56, 1.46]]
r5_dtick = [0.1, 0.1, 0.05, 0.5, 0.02, 0.1, 0.1, 10, 0.2]

# ---------- row 6 : data dimension
r6_train = [[0.43, 0.995, 1.0, 1.0, 1.0, 1.0, 1.0, 1.0, 1.0, 1.0]] * 10
r6_train_sd = [0.02, 0.003, 0, 0, 0, 0, 0, 0, 0, 0]
r6_test = [[0.43, 0.995, 1.0, 1.0, 1.0, 1.0, 1.0, 1.0, 1.0, 1.0]] * 10
r6_test_sd = [0.02, 0.003, 0, 0, 0, 0, 0, 0, 0, 0]
r6_act = [[1.0, 0.930, 0.875, 0.815, 0.775, 0.762, 0.761, 0.760, 0.760, 0.760],
          [1.0, 0.930, 0.876, 0.816, 0.776, 0.763, 0.762, 0.761, 0.761, 0.761],
          [1.0, 0.931, 0.877, 0.817, 0.777, 0.764, 0.763, 0.763, 0.763, 0.763],
          [1.0, 0.931, 0.878, 0.818, 0.778, 0.765, 0.764, 0.764, 0.764, 0.764],
          [1.0, 0.932, 0.879, 0.819, 0.779, 0.766, 0.765, 0.765, 0.765, 0.765],
          [1.0, 0.932, 0.880, 0.820, 0.780, 0.767, 0.766, 0.766, 0.766, 0.766],
          [1.0, 0.933, 0.881, 0.821, 0.781, 0.768, 0.767, 0.767, 0.767, 0.767],
          [1.0, 0.933, 0.882, 0.822, 0.782, 0.769, 0.768, 0.768, 0.768, 0.768],
          [1.0, 0.934, 0.883, 0.823, 0.783, 0.770, 0.770, 0.770, 0.770, 0.770],
          [1.0, 0.934, 0.884, 0.824, 0.784, 0.772, 0.772, 0.772, 0.772, 0.772]]
r6_act_sd = [0, 0.005, 0.007, 0.008, 0.008, 0.008, 0.008, 0.008, 0.008, 0.008]
r6_weight = [[0, 0.05, 0.10, 0.20, 0.38, 0.75, 1.15, 1.48, 1.55, 1.55],
             [0, 0.06, 0.11, 0.19, 0.32, 0.55, 0.72, 0.84, 0.87, 0.87],
             [0, 0.06, 0.10, 0.17, 0.28, 0.46, 0.58, 0.66, 0.68, 0.68],
             [0, 0.05, 0.09, 0.16, 0.26, 0.41, 0.50, 0.56, 0.58, 0.58],
             [0, 0.05, 0.09, 0.15, 0.24, 0.37, 0.44, 0.49, 0.50, 0.50],
             [0, 0.05, 0.08, 0.14, 0.22, 0.34, 0.40, 0.44, 0.45, 0.45],
             [0, 0.05, 0.08, 0.13, 0.21, 0.31, 0.37, 0.40, 0.41, 0.41],
             [0, 0.04, 0.08, 0.13, 0.20, 0.29, 0.34, 0.37, 0.38, 0.38],
             [0, 0.04, 0.07, 0.12, 0.19, 0.27, 0.31, 0.34, 0.35, 0.35],
             [0, 0.04, 0.07, 0.11, 0.18, 0.25, 0.29, 0.31, 0.32, 0.32]]
r6_weight_sd = [[0, 0.005, 0.01, 0.02, 0.04, 0.07, 0.09, 0.1, 0.1, 0.1],
                [0, 0.004, 0.008, 0.015, 0.03, 0.045, 0.05, 0.05, 0.05, 0.05],
                [0, 0.003, 0.006, 0.012, 0.02, 0.03, 0.035, 0.035, 0.035, 0.035],
                [0, 0.003, 0.005, 0.01, 0.018, 0.025, 0.03, 0.03, 0.03, 0.03],
                [0, 0.003, 0.005, 0.01, 0.015, 0.022, 0.025, 0.025, 0.025, 0.025],
                [0, 0.003, 0.005, 0.01, 0.015, 0.02, 0.022, 0.022, 0.022, 0.022],
                [0, 0.003, 0.005, 0.01, 0.015, 0.02, 0.02, 0.02, 0.02, 0.02],
                [0, 0.003, 0.005, 0.01, 0.015, 0.02, 0.02, 0.02, 0.02, 0.02],
                [0, 0.003, 0.005, 0.01, 0.015, 0.02, 0.02, 0.02, 0.02, 0.02],
                [0, 0.003, 0.005, 0.01, 0.015, 0.02, 0.02, 0.02, 0.02, 0.02]]
r6_repr = [[0.322, 0.308, 0.298, 0.288, 0.281, 0.277, 0.277, 0.278, 0.278, 0.278],
           [0.322, 0.309, 0.299, 0.289, 0.282, 0.278, 0.278, 0.279, 0.279, 0.279],
           [0.322, 0.309, 0.300, 0.290, 0.283, 0.279, 0.279, 0.280, 0.280, 0.280],
           [0.322, 0.310, 0.301, 0.291, 0.284, 0.280, 0.280, 0.281, 0.281, 0.281],
           [0.322, 0.310, 0.302, 0.292, 0.285, 0.281, 0.281, 0.282, 0.282, 0.282],
           [0.322, 0.311, 0.303, 0.293, 0.286, 0.282, 0.282, 0.283, 0.283, 0.283],
           [0.322, 0.311, 0.304, 0.294, 0.287, 0.283, 0.283, 0.284, 0.284, 0.284],
           [0.322, 0.312, 0.305, 0.295, 0.288, 0.284, 0.284, 0.285, 0.285, 0.285],
           [0.322, 0.312, 0.306, 0.296, 0.289, 0.285, 0.285, 0.286, 0.286, 0.286],
           [0.322, 0.313, 0.307, 0.297, 0.290, 0.286, 0.286, 0.287, 0.287, 0.287]]
r6_repr_sd = [0.003, 0.004, 0.005, 0.005, 0.005, 0.005, 0.005, 0.005, 0.005, 0.005]
r6_kernel = [[1.0, 0.48, 0.475, 0.48, 0.485, 0.49, 0.49, 0.49, 0.49, 0.49],
             [1.0, 0.484, 0.479, 0.484, 0.489, 0.494, 0.494, 0.494, 0.494, 0.494],
             [1.0, 0.488, 0.483, 0.488, 0.493, 0.498, 0.498, 0.498, 0.498, 0.498],
             [1.0, 0.492, 0.487, 0.492, 0.497, 0.502, 0.502, 0.502, 0.502, 0.502],
             [1.0, 0.496, 0.491, 0.496, 0.501, 0.506, 0.506, 0.506, 0.506, 0.506],
             [1.0, 0.50, 0.495, 0.50, 0.505, 0.51, 0.51, 0.51, 0.51, 0.51],
             [1.0, 0.504, 0.499, 0.504, 0.509, 0.514, 0.514, 0.514, 0.514, 0.514],
             [1.0, 0.508, 0.503, 0.508, 0.513, 0.518, 0.518, 0.518, 0.518, 0.518],
             [1.0, 0.512, 0.507, 0.512, 0.517, 0.522, 0.522, 0.522, 0.522, 0.522],
             [1.0, 0.516, 0.511, 0.516, 0.521, 0.526, 0.526, 0.526, 0.526, 0.526]]
r6_kernel_sd = [0, 0.13, 0.13, 0.13, 0.13, 0.13, 0.13, 0.13, 0.13, 0.13]
r6_ckernel = [[1.0, 0.47, 0.465, 0.47, 0.475, 0.48, 0.48, 0.48, 0.48, 0.48],
              [1.0, 0.474, 0.469, 0.474, 0.479, 0.484, 0.484, 0.484, 0.484, 0.484],
              [1.0, 0.478, 0.473, 0.478, 0.483, 0.488, 0.488, 0.488, 0.488, 0.488],
              [1.0, 0.482, 0.477, 0.482, 0.487, 0.492, 0.492, 0.492, 0.492, 0.492],
              [1.0, 0.486, 0.481, 0.486, 0.491, 0.496, 0.496, 0.496, 0.496, 0.496],
              [1.0, 0.49, 0.485, 0.49, 0.495, 0.50, 0.50, 0.50, 0.50, 0.50],
              [1.0, 0.494, 0.489, 0.494, 0.499, 0.504, 0.504, 0.504, 0.504, 0.504],
              [1.0, 0.498, 0.493, 0.498, 0.503, 0.508, 0.508, 0.508, 0.508, 0.508],
              [1.0, 0.502, 0.497, 0.502, 0.507, 0.512, 0.512, 0.512, 0.512, 0.512],
              [1.0, 0.506, 0.501, 0.506, 0.511, 0.516, 0.516, 0.516, 0.516, 0.516]]
r6_ckernel_sd = [0, 0.13, 0.13, 0.13, 0.13, 0.13, 0.13, 0.13, 0.13, 0.13]
r6_ntk = [[0, 5.0, 11.0, 18.0, 27.0, 30.0, 27.0, 25.0, 25.0, 25.0],
          [0, 6.0, 13.0, 22.0, 34.0, 38.0, 36.0, 32.0, 31.0, 31.0],
          [0, 6.0, 13.5, 23.0, 35.5, 39.5, 37.5, 33.5, 32.5, 32.5],
          [0, 6.2, 13.8, 23.5, 36.0, 40.0, 38.0, 34.0, 33.0, 33.0],
          [0, 6.3, 14.0, 24.0, 36.5, 40.5, 38.5, 34.5, 33.5, 33.5],
          [0, 6.4, 14.2, 24.3, 37.0, 41.0, 39.0, 35.0, 34.0, 34.0],
          [0, 6.5, 14.4, 24.6, 37.3, 41.3, 39.3, 35.3, 34.3, 34.3],
          [0, 6.6, 14.6, 24.9, 37.6, 41.6, 39.6, 35.6, 34.6, 34.6],
          [0, 6.7, 14.8, 25.2, 37.9, 41.9, 39.9, 35.9, 34.9, 34.9],
          [0, 6.8, 15.0, 25.5, 38.2, 42.2, 40.2, 36.2, 35.2, 35.2]]
r6_ntk_sd = [0, 3, 7, 12, 17, 19, 19, 18, 17, 17]
r6_cap = [[0.68, 0.72, 0.78, 0.86, 0.95, 0.99, 0.97, 0.92, 0.87, 0.86],
          [0.68, 0.72, 0.79, 0.88, 0.99, 1.04, 1.04, 1.03, 1.02, 1.02],
          [0.68, 0.72, 0.79, 0.89, 1.00, 1.05, 1.055, 1.05, 1.045, 1.045],
          [0.68, 0.72, 0.79, 0.89, 1.01, 1.06, 1.065, 1.06, 1.055, 1.055],
          [0.68, 0.72, 0.80, 0.90, 1.01, 1.065, 1.07, 1.065, 1.06, 1.06],
          [0.68, 0.72, 0.80, 0.90, 1.02, 1.07, 1.075, 1.07, 1.065, 1.065],
          [0.68, 0.72, 0.80, 0.90, 1.02, 1.07, 1.08, 1.075, 1.07, 1.07],
          [0.68, 0.72, 0.80, 0.91, 1.02, 1.075, 1.08, 1.08, 1.075, 1.075],
          [0.68, 0.72, 0.80, 0.91, 1.03, 1.08, 1.085, 1.08, 1.08, 1.08],
          [0.68, 0.72, 0.80, 0.91, 1.03, 1.08, 1.09, 1.085, 1.085, 1.085]]
r6_cap_sd = [0.015, 0.02, 0.025, 0.03, 0.035, 0.035, 0.035, 0.035, 0.035, 0.035]
r6_yrange = [[0.375, 1.03], [0.375, 1.03], [0.734, 1.014], [-0.08, 1.72], [0.266, 0.3265],
             [0.27, 1.037], [0.27, 1.037], [-3.2, 63], [0.615, 1.164]]
r6_dtick = [0.1, 0.1, 0.05, 0.25, 0.01, 0.1, 0.1, 10, 0.1]

# ---------- row 7 : number of data manifolds
r7_train = [[0.55, 0.98, 1.0, 1.0, 1.0, 1.0, 1.0, 1.0, 1.0, 1.0],
            [0.50, 0.97, 0.995, 1.0, 1.0, 1.0, 1.0, 1.0, 1.0, 1.0],
            [0.47, 0.95, 0.99, 1.0, 1.0, 1.0, 1.0, 1.0, 1.0, 1.0],
            [0.45, 0.93, 0.985, 1.0, 1.0, 1.0, 1.0, 1.0, 1.0, 1.0],
            [0.43, 0.91, 0.98, 0.998, 1.0, 1.0, 1.0, 1.0, 1.0, 1.0],
            [0.41, 0.89, 0.975, 0.997, 1.0, 1.0, 1.0, 1.0, 1.0, 1.0],
            [0.40, 0.87, 0.97, 0.996, 1.0, 1.0, 1.0, 1.0, 1.0, 1.0],
            [0.39, 0.85, 0.965, 0.995, 1.0, 1.0, 1.0, 1.0, 1.0, 1.0],
            [0.38, 0.83, 0.96, 0.994, 1.0, 1.0, 1.0, 1.0, 1.0, 1.0],
            [0.37, 0.81, 0.955, 0.993, 1.0, 1.0, 1.0, 1.0, 1.0, 1.0]]
r7_train_sd = [0.03, 0.02, 0.01, 0.003, 0, 0, 0, 0, 0, 0]
r7_test = [[0.55, 0.98, 1.0, 1.0, 1.0, 1.0, 1.0, 1.0, 1.0, 1.0],
           [0.50, 0.97, 0.995, 1.0, 1.0, 1.0, 1.0, 1.0, 1.0, 1.0],
           [0.47, 0.95, 0.99, 1.0, 1.0, 1.0, 1.0, 1.0, 1.0, 1.0],
           [0.45, 0.93, 0.985, 0.999, 1.0, 1.0, 1.0, 1.0, 1.0, 1.0],
           [0.43, 0.91, 0.98, 0.998, 1.0, 1.0, 1.0, 1.0, 1.0, 1.0],
           [0.41, 0.89, 0.975, 0.997, 1.0, 1.0, 1.0, 1.0, 1.0, 1.0],
           [0.40, 0.87, 0.97, 0.996, 1.0, 1.0, 1.0, 1.0, 1.0, 1.0],
           [0.39, 0.85, 0.965, 0.995, 1.0, 1.0, 1.0, 1.0, 1.0, 1.0],
           [0.38, 0.83, 0.96, 0.994, 0.999, 1.0, 1.0, 1.0, 1.0, 1.0],
           [0.37, 0.81, 0.955, 0.993, 0.999, 1.0, 1.0, 1.0, 1.0, 1.0]]
r7_test_sd = [0.03, 0.02, 0.01, 0.003, 0, 0, 0, 0, 0, 0]
r7_act = [[1.0, 0.860, 0.790, 0.755, 0.750, 0.755, 0.758, 0.760, 0.760, 0.760],
          [1.0, 0.900, 0.830, 0.775, 0.755, 0.756, 0.759, 0.761, 0.761, 0.761],
          [1.0, 0.925, 0.860, 0.795, 0.762, 0.758, 0.760, 0.762, 0.762, 0.762],
          [1.0, 0.940, 0.885, 0.815, 0.770, 0.762, 0.762, 0.763, 0.763, 0.763],
          [1.0, 0.950, 0.900, 0.835, 0.780, 0.765, 0.764, 0.764, 0.764, 0.764],
          [1.0, 0.960, 0.915, 0.850, 0.788, 0.768, 0.766, 0.765, 0.765, 0.765],
          [1.0, 0.965, 0.925, 0.865, 0.796, 0.771, 0.768, 0.766, 0.766, 0.766],
          [1.0, 0.970, 0.935, 0.878, 0.803, 0.774, 0.770, 0.767, 0.767, 0.767],
          [1.0, 0.975, 0.945, 0.890, 0.810, 0.777, 0.772, 0.768, 0.768, 0.768],
          [1.0, 0.978, 0.952, 0.900, 0.817, 0.780, 0.774, 0.769, 0.769, 0.769]]
r7_act_sd = [0, 0.006, 0.008, 0.008, 0.008, 0.008, 0.008, 0.008, 0.008, 0.008]
r7_weight = [[0, 0.12, 0.18, 0.23, 0.26, 0.27, 0.28, 0.28, 0.28, 0.28],
             [0, 0.13, 0.22, 0.30, 0.36, 0.39, 0.41, 0.42, 0.42, 0.42],
             [0, 0.13, 0.24, 0.35, 0.43, 0.48, 0.50, 0.52, 0.52, 0.52],
             [0, 0.13, 0.25, 0.38, 0.49, 0.55, 0.58, 0.60, 0.60, 0.60],
             [0, 0.13, 0.26, 0.41, 0.54, 0.62, 0.65, 0.68, 0.68, 0.68],
             [0, 0.13, 0.26, 0.43, 0.58, 0.68, 0.72, 0.75, 0.76, 0.76],
             [0, 0.13, 0.27, 0.45, 0.62, 0.75, 0.80, 0.84, 0.85, 0.85],
             [0, 0.13, 0.27, 0.46, 0.65, 0.81, 0.88, 0.93, 0.95, 0.95],
             [0, 0.13, 0.27, 0.47, 0.68, 0.87, 0.96, 1.02, 1.05, 1.05],
             [0, 0.13, 0.28, 0.48, 0.71, 0.92, 1.03, 1.11, 1.15, 1.15]]
r7_weight_sd = [0, 0.005, 0.01, 0.02, 0.03, 0.04, 0.05, 0.05, 0.05, 0.05]
r7_repr = [[1.0, 0.995, 0.980, 0.935, 0.880, 0.870, 0.870, 0.870, 0.870, 0.870],
           [1.0, 0.997, 0.988, 0.950, 0.850, 0.815, 0.813, 0.815, 0.817, 0.817],
           [1.0, 0.998, 0.990, 0.955, 0.845, 0.800, 0.800, 0.804, 0.806, 0.806],
           [1.0, 0.998, 0.992, 0.960, 0.845, 0.792, 0.793, 0.798, 0.800, 0.800],
           [1.0, 0.999, 0.994, 0.963, 0.848, 0.787, 0.789, 0.795, 0.798, 0.798],
           [1.0, 0.999, 0.995, 0.966, 0.850, 0.784, 0.786, 0.793, 0.796, 0.796],
           [1.0, 0.999, 0.996, 0.969, 0.853, 0.782, 0.784, 0.791, 0.795, 0.795],
           [1.0, 1.0, 0.997, 0.971, 0.855, 0.780, 0.783, 0.790, 0.794, 0.794],
           [1.0, 1.0, 0.998, 0.973, 0.858, 0.779, 0.782, 0.789, 0.793, 0.793],
           [1.0, 1.0, 0.998, 0.975, 0.860, 0.778, 0.781, 0.788, 0.792, 0.792]]
r7_repr_sd = [0, 0.002, 0.004, 0.008, 0.01, 0.008, 0.008, 0.008, 0.008, 0.008]
r7_kernel = [[1.0, 0.70, 0.60, 0.58, 0.58, 0.59, 0.59, 0.59, 0.59, 0.59],
             [1.0, 0.65, 0.54, 0.52, 0.52, 0.53, 0.53, 0.53, 0.53, 0.53],
             [1.0, 0.62, 0.50, 0.48, 0.48, 0.49, 0.49, 0.49, 0.49, 0.49],
             [1.0, 0.60, 0.48, 0.46, 0.46, 0.47, 0.47, 0.47, 0.47, 0.47],
             [1.0, 0.59, 0.46, 0.44, 0.45, 0.455, 0.455, 0.455, 0.455, 0.455],
             [1.0, 0.58, 0.45, 0.43, 0.44, 0.445, 0.445, 0.445, 0.445, 0.445],
             [1.0, 0.57, 0.44, 0.42, 0.43, 0.437, 0.437, 0.437, 0.437, 0.437],
             [1.0, 0.57, 0.43, 0.415, 0.425, 0.43, 0.43, 0.43, 0.43, 0.43],
             [1.0, 0.56, 0.42, 0.41, 0.42, 0.425, 0.425, 0.425, 0.425, 0.425],
             [1.0, 0.56, 0.41, 0.405, 0.415, 0.42, 0.42, 0.42, 0.42, 0.42]]
r7_kernel_sd = [0, 0.08, 0.1, 0.1, 0.1, 0.1, 0.1, 0.1, 0.1, 0.1]
r7_ckernel = [[1.0, 0.72, 0.62, 0.60, 0.60, 0.61, 0.61, 0.61, 0.61, 0.61],
              [1.0, 0.66, 0.55, 0.53, 0.53, 0.54, 0.54, 0.54, 0.54, 0.54],
              [1.0, 0.63, 0.51, 0.49, 0.49, 0.50, 0.50, 0.50, 0.50, 0.50],
              [1.0, 0.61, 0.49, 0.47, 0.47, 0.48, 0.48, 0.48, 0.48, 0.48],
              [1.0, 0.60, 0.47, 0.45, 0.455, 0.46, 0.46, 0.46, 0.46, 0.46],
              [1.0, 0.59, 0.46, 0.44, 0.445, 0.45, 0.45, 0.45, 0.45, 0.45],
              [1.0, 0.58, 0.45, 0.43, 0.435, 0.44, 0.44, 0.44, 0.44, 0.44],
              [1.0, 0.58, 0.44, 0.42, 0.43, 0.435, 0.435, 0.435, 0.435, 0.435],
              [1.0, 0.57, 0.43, 0.415, 0.425, 0.43, 0.43, 0.43, 0.43, 0.43],
              [1.0, 0.57, 0.42, 0.41, 0.42, 0.425, 0.425, 0.425, 0.425, 0.425]]
r7_ckernel_sd = [0, 0.08, 0.1, 0.1, 0.1, 0.1, 0.1, 0.1, 0.1, 0.1]
r7_ntk = [[0, 18.0, 32.0, 43.0, 47.0, 46.0, 43.0, 40.0, 39.0, 39.0],
          [0, 6.0, 13.0, 22.0, 34.0, 40.0, 38.0, 32.0, 30.0, 30.0],
          [0, 5.0, 11.0, 19.0, 30.0, 37.0, 35.0, 29.0, 27.5, 27.5],
          [0, 4.0, 9.0, 16.0, 27.0, 35.0, 33.0, 27.0, 25.5, 25.5],
          [0, 3.5, 8.0, 14.0, 25.0, 33.0, 31.0, 25.0, 24.0, 24.0],
          [0, 3.0, 7.0, 13.0, 23.0, 31.0, 29.0, 23.5, 22.5, 22.5],
          [0, 2.7, 6.0, 12.0, 21.0, 30.0, 28.0, 22.0, 21.0, 21.0],
          [0, 2.4, 5.5, 11.0, 19.5, 28.5, 26.5, 21.0, 20.0, 20.0],
          [0, 2.2, 5.0, 10.0, 18.5, 27.5, 25.5, 20.0, 19.0, 19.0],
          [0, 2.0, 4.5, 9.0, 17.5, 26.5, 24.5, 19.0, 18.0, 18.0]]
r7_ntk_sd = [[0, 10, 18, 25, 32, 34, 33, 32, 31, 31],
             [0, 4, 8, 12, 16, 18, 18, 16, 15, 15],
             [0, 3, 7, 11, 15, 17, 17, 15, 14, 14],
             [0, 2.5, 6, 10, 14, 15, 15, 13, 12, 12],
             [0, 2, 5, 8, 12, 14, 14, 12, 11, 11],
             [0, 2, 4, 7, 11, 13, 13, 11, 10, 10],
             [0, 1.5, 3.5, 6, 10, 12, 12, 10, 9.5, 9.5],
             [0, 1.5, 3, 5, 9, 11, 11, 9.5, 9, 9],
             [0, 1, 3, 5, 8, 10, 10, 9, 8.5, 8.5],
             [0, 1, 2.5, 4, 7, 9, 9, 8, 8, 8]]
r7_cap = [[0.66, 0.80, 0.95, 1.10, 1.20, 1.24, 1.24, 1.24, 1.24, 1.24],
          [0.66, 0.76, 0.88, 1.00, 1.10, 1.14, 1.14, 1.14, 1.14, 1.14],
          [0.66, 0.73, 0.83, 0.95, 1.04, 1.08, 1.08, 1.08, 1.08, 1.08],
          [0.66, 0.71, 0.79, 0.90, 0.99, 1.04, 1.05, 1.04, 1.04, 1.04],
          [0.66, 0.70, 0.76, 0.86, 0.95, 1.01, 1.02, 1.01, 1.01, 1.01],
          [0.66, 0.69, 0.74, 0.83, 0.92, 0.98, 0.99, 0.98, 0.98, 0.98],
          [0.66, 0.68, 0.72, 0.80, 0.89, 0.95, 0.97, 0.96, 0.95, 0.95],
          [0.66, 0.675, 0.71, 0.78, 0.87, 0.93, 0.95, 0.94, 0.93, 0.93],
          [0.66, 0.67, 0.70, 0.76, 0.85, 0.91, 0.93, 0.92, 0.90, 0.90],
          [0.66, 0.668, 0.69, 0.74, 0.83, 0.89, 0.92, 0.90, 0.88, 0.88]]
r7_cap_sd = [0.01, 0.02, 0.025, 0.03, 0.035, 0.035, 0.035, 0.035, 0.035, 0.035]
r7_yrange = [[0.3, 1.03], [0.3, 1.03], [0.721, 1.012], [-0.065, 1.265], [0.731, 1.011],
             [0.29, 1.031], [0.29, 1.031], [-3.4, 84.3], [0.62, 1.387]]
r7_dtick = [0.1, 0.1, 0.05, 0.2, 0.05, 0.1, 0.1, 20, 0.1]

# ---------------------------------------------------------------- assemble
rows = [
    (r1_labels, [(r1_train, r1_train_sd), (r1_test, r1_test_sd), (r1_act, r1_act_sd), (r1_weight, r1_weight_sd),
                 (r1_repr, r1_repr_sd), (r1_kernel, r1_kernel_sd), (r1_ckernel, r1_ckernel_sd), (r1_ntk, r1_ntk_sd),
                 (r1_cap, r1_cap_sd)], r1_yrange, r1_dtick),
    (r2_labels, [(r2_train, r2_train_sd), (r2_test, r2_test_sd), (r2_act, r2_act_sd), (r2_weight, r2_weight_sd),
                 (r2_repr, r2_repr_sd), (r2_kernel, r2_kernel_sd), (r2_ckernel, r2_ckernel_sd), (r2_ntk, r2_ntk_sd),
                 (r2_cap, r2_cap_sd)], r2_yrange, r2_dtick),
    (r3_labels, [(r3_train, r3_train_sd), (r3_test, r3_test_sd), (r3_act, r3_act_sd), (r3_weight, r3_weight_sd),
                 (r3_repr, r3_repr_sd), (r3_kernel, r3_kernel_sd), (r3_ckernel, r3_ckernel_sd), (r3_ntk, r3_ntk_sd),
                 (r3_cap, r3_cap_sd)], r3_yrange, r3_dtick),
    (r4_labels, [(r4_train, r4_train_sd), (r4_test, r4_test_sd), (r4_act, r4_act_sd), (r4_weight, r4_weight_sd),
                 (r4_repr, r4_repr_sd), (r4_kernel, r4_kernel_sd), (r4_ckernel, r4_ckernel_sd), (r4_ntk, r4_ntk_sd),
                 (r4_cap, r4_cap_sd)], r4_yrange, r4_dtick),
    (r5_labels, [(r5_train, r5_train_sd), (r5_test, r5_test_sd), (r5_act, r5_act_sd), (r5_weight, r5_weight_sd),
                 (r5_repr, r5_repr_sd), (r5_kernel, r5_kernel_sd), (r5_ckernel, r5_ckernel_sd), (r5_ntk, r5_ntk_sd),
                 (r5_cap, r5_cap_sd)], r5_yrange, r5_dtick),
    (r6_labels, [(r6_train, r6_train_sd), (r6_test, r6_test_sd), (r6_act, r6_act_sd), (r6_weight, r6_weight_sd),
                 (r6_repr, r6_repr_sd), (r6_kernel, r6_kernel_sd), (r6_ckernel, r6_ckernel_sd), (r6_ntk, r6_ntk_sd),
                 (r6_cap, r6_cap_sd)], r6_yrange, r6_dtick),
    (r7_labels, [(r7_train, r7_train_sd), (r7_test, r7_test_sd), (r7_act, r7_act_sd), (r7_weight, r7_weight_sd),
                 (r7_repr, r7_repr_sd), (r7_kernel, r7_kernel_sd), (r7_ckernel, r7_ckernel_sd), (r7_ntk, r7_ntk_sd),
                 (r7_cap, r7_cap_sd)], r7_yrange, r7_dtick),
]

# ---------------------------------------------------------------- style / geometry
FONT = "DejaVu Sans"
TXT = "#262626"
BG = "#EAEAF2"
col_left = [118, 230, 343, 458, 571, 682, 793, 907, 1020]
col_w = 89
row_sup = [8, 155, 302, 449, 598, 745, 893]
top_off, plot_h = 17, 103
leg_x0, leg_x1 = 1112, 1158
leg_step = 9.3


def cubehelix(n, start=0.0, rot=0.4, gamma=1.0, hue=0.8, light=0.85, dark=0.27):
    import math
    out = []
    for k in range(n):
        x = light + (dark - light) * (k / (n - 1))
        xg = x ** gamma
        a = hue * xg * (1 - xg) / 2
        phi = 2 * math.pi * (start / 3 + rot * x)
        comps = []
        for p0, p1 in [(-0.14861, 1.78277), (-0.29227, -0.90649), (1.97294, 0.0)]:
            v = xg + a * (p0 * math.cos(phi) + p1 * math.sin(phi))
            comps.append(int(round(max(0, min(1, v)) * 255)))
        out.append(tuple(comps))
    return out


def px(x):
    return x / W


def py(y):
    return 1 - y / H


def tickfmt(d):
    if d >= 1:
        return "d"
    s = f"{d:g}"
    return f".{len(s.split('.')[1])}f"


fig = go.Figure()
layout = {}
annotations = []
shapes = []
linear_cols = {0, 1, 5, 6}

for r, (labels, panels, yranges, dticks) in enumerate(rows):
    n = len(labels)
    cols = cubehelix(n)
    top = row_sup[r] + top_off
    for c, (series, band) in enumerate(panels):
        idx = r * 9 + c + 1
        xa = "x" if idx == 1 else f"x{idx}"
        ya = "y" if idx == 1 else f"y{idx}"
        x0 = col_left[c]
        layout["xaxis" if idx == 1 else f"xaxis{idx}"] = dict(
            domain=[px(x0), px(x0 + col_w)], anchor=ya, type="log",
            range=[-0.256, 5.373], tickvals=[10, 1000, 100000],
            ticktext=["10<sup>1</sup>", "10<sup>3</sup>", "10<sup>5</sup>"],
            showgrid=True, gridcolor="white", gridwidth=0.8, zeroline=False, showline=False,
            ticks="", tickfont=dict(family=FONT, size=6.3, color=TXT), fixedrange=True)
        layout["yaxis" if idx == 1 else f"yaxis{idx}"] = dict(
            domain=[py(top + plot_h), py(top)], anchor=xa, range=yranges[c],
            tick0=0, dtick=dticks[c], tickformat=tickfmt(dticks[c]),
            showgrid=True, gridcolor="white", gridwidth=0.8, zeroline=False, showline=False,
            ticks="", tickfont=dict(family=FONT, size=6.3, color=TXT), fixedrange=True)
        shape = "linear" if c in linear_cols else "spline"
        for i, vals in enumerate(series):
            sd = band[i] if isinstance(band[0], list) else band
            rr, gg, bb = cols[i]
            upper = [v + s for v, s in zip(vals, sd)]
            lower = [v - s for v, s in zip(vals, sd)]
            fig.add_trace(go.Scatter(
                x=epochs + epochs[::-1], y=upper + lower[::-1], xaxis=xa, yaxis=ya,
                fill="toself", fillcolor=f"rgba({rr},{gg},{bb},0.2)",
                line=dict(width=0, shape=shape, smoothing=0.6), mode="lines",
                hoverinfo="skip", showlegend=False))
            fig.add_trace(go.Scatter(
                x=epochs, y=vals, xaxis=xa, yaxis=ya, mode="lines",
                line=dict(color=f"rgb({rr},{gg},{bb})", width=0.8, shape=shape, smoothing=0.6),
                showlegend=False, hoverinfo="skip"))
        annotations.append(dict(x=px(x0 + col_w / 2), y=py(row_sup[r] + 12), xref="paper", yref="paper",
                                text=metric_titles[c], showarrow=False, xanchor="center", yanchor="middle",
                                font=dict(family=FONT, size=6.4, color=TXT)))
        annotations.append(dict(x=px(x0 + col_w / 2), y=py(row_sup[r] + 134.5), xref="paper", yref="paper",
                                text="Epoch", showarrow=False, xanchor="center", yanchor="middle",
                                font=dict(family=FONT, size=6.6, color=TXT)))
    annotations.append(dict(x=px(632), y=py(row_sup[r]), xref="paper", yref="paper",
                            text=f"<b>{row_titles[r]}</b>", showarrow=False, xanchor="center",
                            yanchor="middle", font=dict(family=FONT, size=6.2, color="#111111")))
    # legend (drawn manually)
    ly0 = top + 1.5
    ly1 = ly0 + 5 + n * leg_step
    shapes.append(dict(type="rect", xref="paper", yref="paper", x0=px(leg_x0), x1=px(leg_x1),
                       y0=py(ly1), y1=py(ly0), fillcolor=BG, line=dict(color="#dedee8", width=0.6),
                       layer="below"))
    for i, lab in enumerate(labels):
        yy = ly0 + 6.5 + i * leg_step
        rr, gg, bb = cols[i]
        shapes.append(dict(type="line", xref="paper", yref="paper", x0=px(leg_x0 + 4), x1=px(leg_x0 + 16),
                           y0=py(yy), y1=py(yy), line=dict(color=f"rgb({rr},{gg},{bb})", width=1)))
        annotations.append(dict(x=px(leg_x0 + 19), y=py(yy), xref="paper", yref="paper", text=lab,
                                showarrow=False, xanchor="left", yanchor="middle",
                                font=dict(family=FONT, size=6.3, color=TXT)))

# line numbers in the margin
for k, num in enumerate(line_numbers):
    annotations.append(dict(x=px(10), y=py(10 + k * 31.9), xref="paper", yref="paper",
                            text=f"<b>{num}</b>", showarrow=False, xanchor="left", yanchor="middle",
                            font=dict(family="Liberation Sans", size=20, color="#b4b4b4")))

fig.update_layout(width=W, height=H, margin=dict(l=0, r=0, t=0, b=0), paper_bgcolor="white",
                  plot_bgcolor=BG, showlegend=False, annotations=annotations, shapes=shapes,
                  font=dict(family=FONT, size=7, color=TXT), **layout)

fig.write_html("out.html")
